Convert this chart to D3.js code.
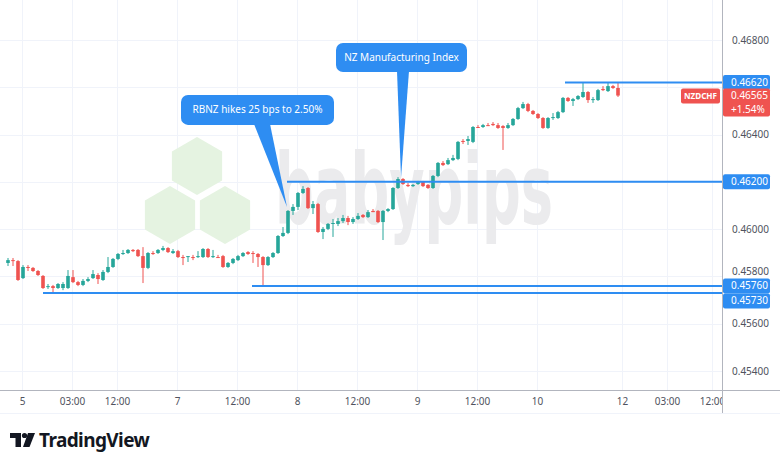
<!DOCTYPE html>
<html>
<head>
<meta charset="utf-8">
<title>NZDCHF 1H</title>
<script src="https://cdnjs.cloudflare.com/ajax/libs/d3/7.8.5/d3.min.js"></script>
<style>
  body { margin: 0; background: #fff; }
  svg { display: block; font-family: "Noto Sans", sans-serif; }
</style>
</head>
<body>
<svg id="chart" width="780" height="468"></svg>
<script>
// hourly candles, index 0 = first bar on the left
const open = [
  0.45857,0.45869,0.45865,0.45793,0.45840,0.45836,0.45823,0.45802,0.45755,0.45759,
  0.45751,0.45751,0.45751,0.45797,0.45776,0.45764,0.45781,0.45793,0.45806,0.45785,
  0.45819,0.45840,0.45874,0.45895,0.45899,0.45912,0.45912,0.45886,0.45836,0.45899,
  0.45899,0.45912,0.45920,0.45899,0.45907,0.45882,0.45882,0.45882,0.45882,0.45882,
  0.45916,0.45882,0.45882,0.45886,0.45840,0.45857,0.45869,0.45886,0.45903,0.45899,
  0.45895,0.45882,0.45848,0.45882,0.45899,0.45971,0.45984,0.46077,0.46094,0.46153,
  0.46174,0.46089,0.46106,0.45988,0.46001,0.46022,0.46022,0.46034,0.46047,0.46030,
  0.46043,0.46060,0.46051,0.46077,0.46077,0.46030,0.46077,0.46085,0.46174,0.46212,
  0.46187,0.46182,0.46191,0.46199,0.46187,0.46174,0.46225,0.46280,0.46275,0.46292,
  0.46297,0.46373,0.46373,0.46369,0.46432,0.46432,0.46440,0.46445,0.46440,0.46436,
  0.46428,0.46440,0.46466,0.46512,0.46529,0.46500,0.46487,0.46470,0.46428,0.46470,
  0.46470,0.46495,0.46555,0.46542,0.46550,0.46559,0.46580,0.46546,0.46546,0.46593,
  0.46584,0.46605,0.46597
];
const high = [
  0.45878,0.45878,0.45869,0.45848,0.45848,0.45840,0.45827,0.45806,0.45768,0.45764,
  0.45772,0.45776,0.45827,0.45827,0.45781,0.45789,0.45797,0.45827,0.45814,0.45827,
  0.45882,0.45878,0.45899,0.45912,0.45916,0.45916,0.45916,0.45924,0.45903,0.45907,
  0.45916,0.45929,0.45924,0.45916,0.45912,0.45891,0.45886,0.45891,0.45907,0.45920,
  0.45920,0.45912,0.45891,0.45891,0.45861,0.45878,0.45891,0.45903,0.45907,0.45907,
  0.45899,0.45886,0.45886,0.45903,0.45975,0.46009,0.46081,0.46106,0.46157,0.46182,
  0.46178,0.46119,0.46111,0.46009,0.46026,0.46043,0.46047,0.46060,0.46056,0.46051,
  0.46068,0.46064,0.46081,0.46085,0.46081,0.46081,0.46089,0.46178,0.46220,0.46216,
  0.46195,0.46191,0.46204,0.46204,0.46191,0.46229,0.46284,0.46288,0.46301,0.46314,
  0.46373,0.46381,0.46394,0.46436,0.46440,0.46445,0.46449,0.46453,0.46449,0.46440,
  0.46449,0.46470,0.46517,0.46538,0.46534,0.46504,0.46491,0.46474,0.46474,0.46491,
  0.46500,0.46559,0.46559,0.46555,0.46567,0.46620,0.46584,0.46559,0.46593,0.46605,
  0.46618,0.46610,0.46620
];
const low = [
  0.45844,0.45844,0.45781,0.45789,0.45823,0.45819,0.45802,0.45747,0.45747,0.45730,
  0.45747,0.45742,0.45747,0.45772,0.45759,0.45759,0.45776,0.45789,0.45768,0.45781,
  0.45814,0.45836,0.45869,0.45891,0.45895,0.45903,0.45882,0.45772,0.45831,0.45891,
  0.45895,0.45907,0.45899,0.45895,0.45878,0.45848,0.45861,0.45869,0.45878,0.45878,
  0.45878,0.45878,0.45878,0.45836,0.45836,0.45852,0.45865,0.45882,0.45891,0.45857,
  0.45840,0.45760,0.45844,0.45878,0.45895,0.45967,0.45979,0.46060,0.46081,0.46149,
  0.46085,0.46064,0.45984,0.45958,0.45996,0.45967,0.46013,0.46026,0.46017,0.46022,
  0.46039,0.46047,0.46047,0.46072,0.46026,0.45954,0.46072,0.46081,0.46170,0.46187,
  0.46178,0.46178,0.46187,0.46178,0.46170,0.46170,0.46220,0.46267,0.46271,0.46288,
  0.46292,0.46360,0.46356,0.46364,0.46428,0.46428,0.46436,0.46436,0.46424,0.46335,
  0.46424,0.46436,0.46462,0.46508,0.46495,0.46483,0.46466,0.46424,0.46424,0.46462,
  0.46466,0.46491,0.46538,0.46521,0.46546,0.46555,0.46534,0.46534,0.46542,0.46584,
  0.46580,0.46593,0.46559
];
const close = [
  0.45869,0.45865,0.45785,0.45840,0.45836,0.45823,0.45806,0.45751,0.45759,0.45751,
  0.45768,0.45768,0.45802,0.45776,0.45764,0.45781,0.45789,0.45810,0.45789,0.45819,
  0.45840,0.45874,0.45895,0.45899,0.45912,0.45907,0.45886,0.45836,0.45899,0.45895,
  0.45912,0.45920,0.45903,0.45907,0.45882,0.45878,0.45886,0.45878,0.45886,0.45916,
  0.45882,0.45886,0.45878,0.45840,0.45857,0.45874,0.45886,0.45899,0.45895,0.45895,
  0.45882,0.45848,0.45882,0.45899,0.45971,0.45984,0.46077,0.46094,0.46153,0.46170,
  0.46089,0.46106,0.45988,0.46001,0.46022,0.46026,0.46034,0.46047,0.46030,0.46043,
  0.46056,0.46051,0.46072,0.46072,0.46030,0.46077,0.46085,0.46174,0.46212,0.46191,
  0.46182,0.46187,0.46199,0.46182,0.46174,0.46225,0.46280,0.46271,0.46292,0.46301,
  0.46369,0.46369,0.46381,0.46432,0.46428,0.46440,0.46436,0.46440,0.46428,0.46428,
  0.46440,0.46466,0.46512,0.46529,0.46500,0.46487,0.46470,0.46428,0.46470,0.46474,
  0.46495,0.46555,0.46542,0.46550,0.46563,0.46580,0.46546,0.46550,0.46588,0.46588,
  0.46605,0.46597,0.46565
];

const priceTicks = [0.454, 0.456, 0.458, 0.460, 0.462, 0.464, 0.466, 0.468];
const timeTickIdx = [2.8, 12.8, 21.8, 33.8, 45.8, 57.8, 69.8, 81.8, 93.8, 105.8, 122.8, 131.8, 140.8];
const timeTickText = ["5", "03:00", "12:00", "7", "12:00", "8", "12:00", "9", "12:00", "10", "12", "03:00", "12:00"];

// horizontal rays: level and the bar they start from
const rayPrice = [0.46620, 0.46200, 0.45760, 0.45730];
const rayStart = [111.4, 55.8, 48.8, 7];

// callouts: text, bar and price of the pointer tip
const noteText = ["RBNZ hikes 25 bps to 2.50%", "NZ Manufacturing Index"];
const noteIdx = [55.8, 78.6];
const notePrice = [0.46094, 0.46216];

const symbol = "NZDCHF";
const lastChange = "+1.54%";

const plotR = 722, plotB = 390;
const up = "#26a69a", down = "#ef5350", blue = "#2e8df2";
const fmt = d3.format(".5f");

const svg = d3.select("#chart");
const x = d3.scaleLinear().domain([-1.6, 142.8]).range([0, plotR]);
const y = d3.scaleLinear().domain([0.454, 0.468]).range([371, 40]);

svg.append("defs").append("clipPath").attr("id", "plot")
  .append("rect").attr("width", plotR).attr("height", plotB);

const plot = svg.append("g").attr("clip-path", "url(#plot)");

// grid
plot.append("g").selectAll("line").data(priceTicks).join("line")
  .attr("x1", 0).attr("x2", plotR)
  .attr("y1", d => Math.round(y(d)) + 0.5).attr("y2", d => Math.round(y(d)) + 0.5)
  .attr("stroke", "#f0f3fa");
plot.append("g").selectAll("line").data(timeTickIdx).join("line")
  .attr("y1", 0).attr("y2", plotB)
  .attr("x1", d => Math.round(x(d)) + 0.5).attr("x2", d => Math.round(x(d)) + 0.5)
  .attr("stroke", "#f0f3fa");

// watermark
const hexR = 29;
const hex = (cx, cy) => d3.range(6).map(k => {
  const a = Math.PI / 3 * k + Math.PI / 6;
  return [cx + hexR * Math.cos(a), cy + hexR * Math.sin(a)];
});
plot.append("g").selectAll("path")
  .data([[197, 166], [170, 215], [225, 215]]).join("path")
  .attr("d", d => "M" + hex(d[0], d[1]).join("L") + "Z")
  .attr("fill", "#e5f3e1");
const wm = plot.append("text")
  .attr("font-size", 98).attr("font-weight", "bold")
  .attr("font-family", "'DejaVu Sans', sans-serif")
  .attr("fill", "#ebebed")
  .text("babypips");
const wmScale = 278 / wm.node().getComputedTextLength();
wm.attr("transform", `translate(275,224) scale(${wmScale},1)`);

// candles
const bars = d3.range(open.length);
const candles = plot.append("g").selectAll("g").data(bars).join("g")
  .attr("fill", i => close[i] >= open[i] ? up : down)
  .attr("stroke", i => close[i] >= open[i] ? up : down);
candles.append("line")
  .attr("x1", i => x(i)).attr("x2", i => x(i))
  .attr("y1", i => y(high[i])).attr("y2", i => y(low[i]))
  .attr("stroke-width", 1);
candles.append("rect")
  .attr("stroke", "none")
  .attr("x", i => x(i) - 1.8).attr("width", 3.6)
  .attr("y", i => y(Math.max(open[i], close[i])))
  .attr("height", i => Math.max(1, Math.abs(y(open[i]) - y(close[i]))));

// rays
plot.append("g").selectAll("line").data(rayPrice).join("line")
  .attr("x1", (d, i) => x(rayStart[i])).attr("x2", plotR)
  .attr("y1", d => y(d)).attr("y2", d => y(d))
  .attr("stroke", blue).attr("stroke-width", 2);

// callouts
const noteBox = [
  { dx: -106, dy: -112, w: 153, h: 30, b0: -33, b1: -17 },
  { dx: -65, dy: -135, w: 131, h: 29, b0: -4, b1: 8 }
];
noteText.forEach((t, i) => {
  const tx = x(noteIdx[i]), ty = y(notePrice[i]), b = noteBox[i];
  const g = svg.append("g");
  g.append("rect")
    .attr("x", tx + b.dx).attr("y", ty + b.dy)
    .attr("width", b.w).attr("height", b.h).attr("rx", 7)
    .attr("fill", blue);
  g.append("path")
    .attr("d", `M${tx + b.b0},${ty + b.dy + b.h - 1}L${tx},${ty}L${tx + b.b1},${ty + b.dy + b.h - 1}Z`)
    .attr("fill", blue);
  g.append("text")
    .attr("x", tx + b.dx + b.w / 2).attr("y", ty + b.dy + b.h / 2 + 3.5)
    .attr("text-anchor", "middle").attr("font-size", 10).attr("fill", "#fff")
    .text(t);
});

// axes; levels covered by a price label are left out of the scale labels
const covered = [0.462, 0.466];
const yAxis = svg.append("g").attr("transform", `translate(${plotR},0)`)
  .call(d3.axisRight(y).tickValues(priceTicks.filter(d => !covered.includes(d)))
    .tickFormat(fmt).tickSize(0).tickPadding(10));
yAxis.select(".domain").remove();
yAxis.selectAll("text").attr("font-size", 10).attr("fill", "#50535e")
  .attr("font-family", "'Noto Sans', sans-serif");
yAxis.selectAll(".tick").filter(d => d === 0.458).select("text").attr("dy", "-0.15em");

svg.append("defs").append("clipPath").attr("id", "timeclip")
  .append("rect").attr("width", plotR).attr("height", 468);
const xAxis = svg.append("g").attr("transform", `translate(0,${plotB})`)
  .attr("clip-path", "url(#timeclip)")
  .call(d3.axisBottom(x).tickValues(timeTickIdx).tickFormat((d, i) => timeTickText[i]).tickSize(0).tickPadding(8));
xAxis.select(".domain").remove();
xAxis.selectAll("text").attr("font-size", 10).attr("fill", "#50535e")
  .attr("font-family", "'Noto Sans', sans-serif");

svg.append("line").attr("x1", 0).attr("x2", 780).attr("y1", plotB + 0.5).attr("y2", plotB + 0.5)
  .attr("stroke", "#b2b5be");
svg.append("line").attr("x1", 0).attr("x2", 780).attr("y1", 413.5).attr("y2", 413.5)
  .attr("stroke", "#f0f3fa");
svg.append("line").attr("x1", plotR + 0.5).attr("x2", plotR + 0.5).attr("y1", 0).attr("y2", 413)
  .attr("stroke", "#b2b5be");

// price labels on the axis
let lastBottom = -Infinity;
rayPrice.map(p => ({ p, cy: y(p) }))
  .sort((a, b) => a.cy - b.cy)
  .forEach(d => {
    let cy = d.cy;
    if (cy - 7.5 < lastBottom) cy = lastBottom + 7.5;
    lastBottom = cy + 7.5;
    svg.append("rect").attr("x", plotR + 1).attr("y", cy - 7.5)
      .attr("width", 47).attr("height", 15).attr("rx", 2).attr("fill", blue);
    svg.append("text").attr("x", plotR + 9).attr("y", cy + 3.3)
      .attr("font-size", 10).attr("fill", "#fff").text(fmt(d.p));
  });

const last = close[close.length - 1];
const lastY = y(last);
svg.append("rect").attr("x", plotR + 1).attr("y", lastY - 7)
  .attr("width", 47).attr("height", 28).attr("rx", 2).attr("fill", down);
svg.append("text").attr("x", plotR + 9).attr("y", lastY + 3.6)
  .attr("font-size", 10).attr("fill", "#fff").text(fmt(last));
svg.append("text").attr("x", plotR + 9).attr("y", lastY + 17.4)
  .attr("font-size", 10).attr("fill", "#fff").text(lastChange);

svg.append("rect").attr("x", plotR - 41).attr("y", lastY - 7)
  .attr("width", 39).attr("height", 15).attr("rx", 2).attr("fill", down);
svg.append("text").attr("x", plotR - 21.5).attr("y", lastY + 3.5)
  .attr("text-anchor", "middle").attr("font-size", 9).attr("font-weight", "bold")
  .attr("textLength", 33).attr("lengthAdjust", "spacingAndGlyphs")
  .attr("fill", "#fff").text(symbol);

// TradingView logo
const logo = svg.append("g").attr("fill", "#131722");
logo.append("path").attr("d", "M10,433H21V447H15.5V438H10Z");
logo.append("circle").attr("cx", 24.5).attr("cy", 435.5).attr("r", 2.6);
logo.append("path").attr("d", "M28,433H35L29.5,447H23Z");
logo.append("text").attr("x", 39).attr("y", 447)
  .attr("font-size", 19).attr("font-weight", "bold")
  .attr("font-family", "'Noto Sans', sans-serif").attr("letter-spacing", -0.6)
  .text("TradingView");
</script>
</body>
</html>
